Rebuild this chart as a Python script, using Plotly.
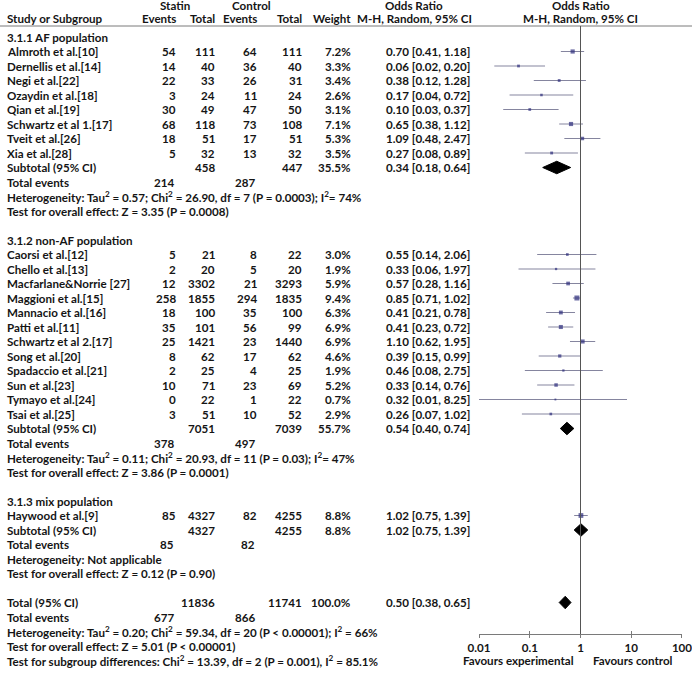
import plotly.graph_objects as go

# ---------------- data ----------------
af_names = ["Almroth et al.[10]", "Dernellis et al.[14]", "Negi et al.[22]", "Ozaydin et al.[18]",
            "Qian et al.[19]", "Schwartz et al 1.[17]", "Tveit et al.[26]", "Xia et al.[28]"]
af_statin_events = [54, 14, 22, 3, 30, 68, 18, 5]
af_statin_total = [111, 40, 33, 24, 49, 118, 51, 32]
af_control_events = [64, 36, 26, 11, 47, 73, 17, 13]
af_control_total = [111, 40, 31, 24, 50, 108, 51, 32]
af_weight = [7.2, 3.3, 3.4, 2.6, 3.1, 7.1, 5.3, 3.5]
af_or = [0.70, 0.06, 0.38, 0.17, 0.10, 0.65, 1.09, 0.27]
af_lo = [0.41, 0.02, 0.12, 0.04, 0.03, 0.38, 0.48, 0.08]
af_hi = [1.18, 0.20, 1.28, 0.72, 0.37, 1.12, 2.47, 0.89]

nonaf_names = ["Caorsi et al.[12]", "Chello et al.[13]", "Macfarlane&Norrie [27]", "Maggioni et al.[15]",
               "Mannacio et al.[16]", "Patti et al.[11]", "Schwartz et al 2.[17]", "Song et al.[20]",
               "Spadaccio et al.[21]", "Sun et al.[23]", "Tymayo et al.[24]", "Tsai et al.[25]"]
nonaf_statin_events = [5, 2, 12, 258, 18, 35, 25, 8, 2, 10, 0, 3]
nonaf_statin_total = [21, 20, 3302, 1855, 100, 101, 1421, 62, 25, 71, 22, 51]
nonaf_control_events = [8, 5, 21, 294, 35, 56, 23, 17, 4, 23, 1, 10]
nonaf_control_total = [22, 20, 3293, 1835, 100, 99, 1440, 62, 25, 69, 22, 52]
nonaf_weight = [3.0, 1.9, 5.9, 9.4, 6.3, 6.9, 6.9, 4.6, 1.9, 5.2, 0.7, 2.9]
nonaf_or = [0.55, 0.33, 0.57, 0.85, 0.41, 0.41, 1.10, 0.39, 0.46, 0.33, 0.32, 0.26]
nonaf_lo = [0.14, 0.06, 0.28, 0.71, 0.21, 0.23, 0.62, 0.15, 0.08, 0.14, 0.01, 0.07]
nonaf_hi = [2.06, 1.97, 1.16, 1.02, 0.78, 0.72, 1.95, 0.99, 2.75, 0.76, 8.25, 1.02]

mix_names = ["Haywood et al.[9]"]
mix_statin_events = [85]
mix_statin_total = [4327]
mix_control_events = [82]
mix_control_total = [4255]
mix_weight = [8.8]
mix_or = [1.02]
mix_lo = [0.75]
mix_hi = [1.39]

subgroup_titles = ["3.1.1 AF population", "3.1.2 non-AF population", "3.1.3 mix population"]
sub_statin_total = [458, 7051, 4327]
sub_control_total = [447, 7039, 4255]
sub_weight = [35.5, 55.7, 8.8]
sub_or = [0.34, 0.54, 1.02]
sub_lo = [0.18, 0.40, 0.75]
sub_hi = [0.64, 0.74, 1.39]
sub_statin_events = [214, 378, 85]
sub_control_events = [287, 497, 82]
sub_het = ["Heterogeneity: Tau<sup>2</sup> = 0.57; Chi<sup>2</sup> = 26.90, df = 7 (P = 0.0003); I<sup>2</sup>= 74%",
           "Heterogeneity: Tau<sup>2</sup> = 0.11; Chi<sup>2</sup> = 20.93, df = 11 (P = 0.03); I<sup>2</sup>= 47%",
           "Heterogeneity: Not applicable"]
sub_test = ["Test for overall effect: Z = 3.35 (P = 0.0008)",
            "Test for overall effect: Z = 3.86 (P = 0.0001)",
            "Test for overall effect: Z = 0.12 (P = 0.90)"]

total_statin_total = 11836
total_control_total = 11741
total_weight = 100.0
total_or, total_lo, total_hi = 0.50, 0.38, 0.65
total_statin_events = 677
total_control_events = 866
total_het = "Heterogeneity: Tau<sup>2</sup> = 0.20; Chi<sup>2</sup> = 59.34, df = 20 (P &lt; 0.00001); I<sup>2</sup> = 66%"
total_test = "Test for overall effect: Z = 5.01 (P &lt; 0.00001)"
subgroup_diff = "Test for subgroup differences: Chi<sup>2</sup> = 13.39, df = 2 (P = 0.001), I<sup>2</sup> = 85.1%"

tick_vals = [0.01, 0.1, 1, 10, 100]
tick_text = ["0.01", "0.1", "1", "10", "100"]
favours_left = "Favours experimental"
favours_right = "Favours control"

# ---------------- layout constants ----------------
W, H = 692, 675
ROW0_PX, ROW_PX = 37.0, 14.5
FONT = "Lato, 'Open Sans', sans-serif"
TXT = "#151515"
FS = 11.6
COL_NAME = 6
COL_SE, COL_ST, COL_CE, COL_CT, COL_W, COL_OR = 177, 216, 258, 303, 352, 471
COL_OR_HDR = 414
COL_TE_S, COL_TE_C = 175, 256
PLOT_L, PLOT_R = 479, 682
AXIS_PX = 634
HEADER_LINE_PX = 26
HDR1_PX, HDR2_PX = 6, 19
SQ_COLOR = "#2c2c7c"
CI_COLOR = "#85859f"
LOG_PAD = 0.0005

groups = [
    (af_names, af_statin_events, af_statin_total, af_control_events, af_control_total, af_weight, af_or, af_lo, af_hi),
    (nonaf_names, nonaf_statin_events, nonaf_statin_total, nonaf_control_events, nonaf_control_total, nonaf_weight, nonaf_or, nonaf_lo, nonaf_hi),
    (mix_names, mix_statin_events, mix_statin_total, mix_control_events, mix_control_total, mix_weight, mix_or, mix_lo, mix_hi),
]

fig = go.Figure()
ann = []


def px_x(p):
    return p / W


def px_y(p):
    return 1 - p / H


def text(x_px, row, s, anchor="right", yref="y"):
    ann.append(dict(x=px_x(x_px), xref="paper", y=row, yref=yref, text=s, showarrow=False,
                    xanchor=anchor, yanchor="middle", borderpad=0,
                    font=dict(family=FONT, size=FS, color=TXT, weight="bold")))


def fmt_or(o, l, h):
    return f"{o:.2f} [{l:.2f}, {h:.2f}]"


def diamond(o, l, h, row, half=0.43):
    fig.add_trace(go.Scatter(x=[l, o, h, o, l], y=[row, row - half, row, row + half, row],
                             mode="lines", fill="toself", fillcolor="black",
                             line=dict(color="black", width=1), hoverinfo="skip", showlegend=False))


# headers
plot_c = (PLOT_L + PLOT_R) / 2
text(175, px_y(HDR1_PX), "Statin", "center", "paper")
text(251, px_y(HDR1_PX), "Control", "center", "paper")
text(COL_OR_HDR, px_y(HDR1_PX), "Odds Ratio", "center", "paper")
text(plot_c, px_y(HDR1_PX), "Odds Ratio", "center", "paper")
text(COL_NAME, px_y(HDR2_PX), "Study or Subgroup", "left", "paper")
text(COL_SE, px_y(HDR2_PX), "Events", "right", "paper")
text(COL_ST, px_y(HDR2_PX), "Total", "right", "paper")
text(COL_CE, px_y(HDR2_PX), "Events", "right", "paper")
text(COL_CT, px_y(HDR2_PX), "Total", "right", "paper")
text(COL_W, px_y(HDR2_PX), "Weight", "right", "paper")
text(COL_OR_HDR, px_y(HDR2_PX), "M-H, Random, 95% CI", "center", "paper")
text(plot_c, px_y(HDR2_PX), "M-H, Random, 95% CI", "center", "paper")

row = 0
for gi, g in enumerate(groups):
    names, se, st, ce, ct, wt, o, lo, hi = g
    text(COL_NAME, row, subgroup_titles[gi], "left")
    row += 1
    rows = []
    for k in range(len(names)):
        text(COL_NAME, row, names[k], "left")
        text(COL_SE, row, str(se[k]))
        text(COL_ST, row, str(st[k]))
        text(COL_CE, row, str(ce[k]))
        text(COL_CT, row, str(ct[k]))
        text(COL_W, row, f"{wt[k]:.1f}%")
        text(COL_OR, row, fmt_or(o[k], lo[k], hi[k]), "right")
        rows.append(row)
        row += 1
    # CI lines
    xs, ys = [], []
    for k, r in enumerate(rows):
        xs += [lo[k], hi[k], None]
        ys += [r, r, None]
    fig.add_trace(go.Scatter(x=xs, y=ys, mode="lines", line=dict(color=CI_COLOR, width=1),
                             hoverinfo="skip", showlegend=False))
    fig.add_trace(go.Scatter(x=o, y=rows, mode="markers",
                             marker=dict(symbol="square", color=SQ_COLOR,
                                         size=[1.6 + 0.36 * w for w in wt], line=dict(width=0)),
                             hoverinfo="skip", showlegend=False))
    # subtotal
    text(COL_NAME, row, "Subtotal (95% CI)", "left")
    text(COL_ST, row, str(sub_statin_total[gi]))
    text(COL_CT, row, str(sub_control_total[gi]))
    text(COL_W, row, f"{sub_weight[gi]:.1f}%")
    text(COL_OR, row, fmt_or(sub_or[gi], sub_lo[gi], sub_hi[gi]), "right")
    diamond(sub_or[gi], sub_lo[gi], sub_hi[gi], row)
    row += 1
    text(COL_NAME, row, "Total events", "left")
    text(COL_TE_S, row, str(sub_statin_events[gi]))
    text(COL_TE_C, row, str(sub_control_events[gi]))
    row += 1
    text(COL_NAME, row, sub_het[gi], "left")
    row += 1
    text(COL_NAME, row, sub_test[gi], "left")
    row += 2

text(COL_NAME, row, "Total (95% CI)", "left")
text(COL_ST, row, str(total_statin_total))
text(COL_CT, row, str(total_control_total))
text(COL_W, row, f"{total_weight:.1f}%")
text(COL_OR, row, fmt_or(total_or, total_lo, total_hi), "right")
diamond(total_or, total_lo, total_hi, row)
row += 1
text(COL_NAME, row, "Total events", "left")
text(COL_TE_S, row, str(total_statin_events))
text(COL_TE_C, row, str(total_control_events))
row += 1
text(COL_NAME, row, total_het, "left")
row += 1
text(COL_NAME, row, total_test, "left")
row += 1
text(COL_NAME, row, subgroup_diff, "left")

text(575, px_y(660), favours_left, "right", "paper")
text(592, px_y(660), favours_right, "left", "paper")

# y range so that row index maps to pixel rows
y_top = (0 - ROW0_PX) / ROW_PX
y_bot = (H - ROW0_PX) / ROW_PX

shapes = [
    dict(type="line", xref="paper", yref="paper", x0=0, x1=1, y0=px_y(HEADER_LINE_PX), y1=px_y(HEADER_LINE_PX),
         line=dict(color="#7a7a7a", width=1)),
    dict(type="line", xref="x", yref="paper", x0=1, x1=1, y0=px_y(HEADER_LINE_PX), y1=px_y(AXIS_PX),
         line=dict(color="#555555", width=1)),
]

axis_common = dict(type="log", range=[-2 - LOG_PAD, 2 + LOG_PAD], domain=[PLOT_L / W, PLOT_R / W],
                   anchor="free", position=px_y(AXIS_PX), showgrid=False, zeroline=False,
                   tickmode="array", tickvals=tick_vals, fixedrange=True, automargin=False)

fig.update_layout(
    width=W, height=H, margin=dict(l=0, r=0, t=0, b=0, autoexpand=False),
    paper_bgcolor="white", plot_bgcolor="rgba(0,0,0,0)",
    xaxis=dict(**axis_common, ticktext=tick_text, showline=True, linecolor="#7a7a7a", linewidth=1,
               ticks="outside", ticklen=3, tickcolor="#7a7a7a", tickwidth=1,
               ticklabeloverflow="allow",
               tickfont=dict(family=FONT, size=FS, color=TXT, weight="bold")),
    xaxis2=dict(**axis_common, overlaying="x", ticks="inside", ticklen=3, tickcolor="#7a7a7a",
                tickwidth=1, showticklabels=False, showline=False),
    yaxis=dict(range=[y_bot, y_top], domain=[0, 1], visible=False, fixedrange=True, automargin=False),
    annotations=ann, shapes=shapes, showlegend=False,
)
# invisible trace to activate xaxis2
fig.add_trace(go.Scatter(x=[1], y=[0], xaxis="x2", mode="markers", marker=dict(opacity=0),
                         hoverinfo="skip", showlegend=False))

fig.write_html("out.html", config={"displayModeBar": False, "staticPlot": True},
               post_script="document.body.style.margin='0';document.body.style.overflow='hidden';")
